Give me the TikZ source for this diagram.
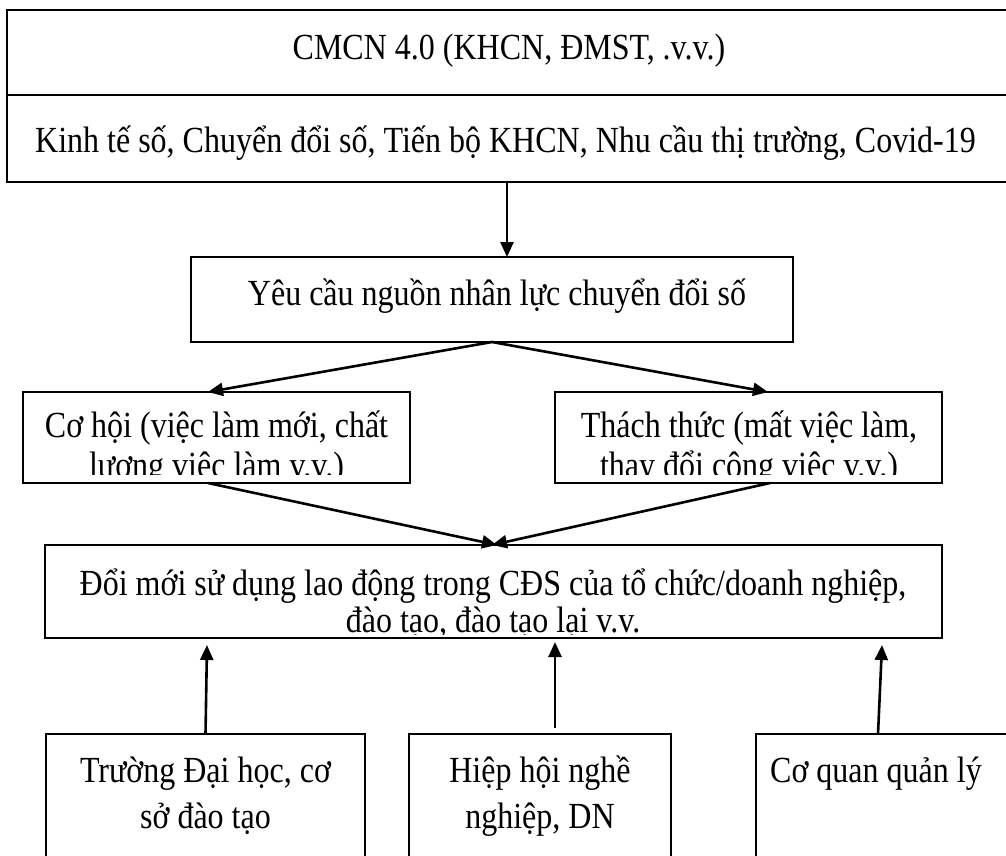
\documentclass[tikz,border=0pt]{standalone}
\usepackage{fontspec}
\setmainfont{Liberation Serif}
\usetikzlibrary{arrows.meta,calc,fit}
\newcommand{\tall}[1]{\scalebox{1}[1.15]{#1}}
\begin{document}
\begin{tikzpicture}[x=1pt,y=-1pt,
  box/.style={draw=black, line width=2pt, inner sep=0pt, outer sep=0pt, rectangle},
  txt/.style={inner sep=0pt, anchor=base, font=\fontsize{32}{38}\selectfont},
  ltxt/.style={inner sep=0pt, anchor=base west, font=\fontsize{32}{38}\selectfont},
  arr/.style={line width=2.6pt, -{Triangle[length=15pt,width=13pt]}}]
\useasboundingbox (0,0) rectangle (1006,855);
\clip (0,0) rectangle (1006,855);
\fill[white] (0,0) rectangle (1006,855);
% boxes
\node[box, fit={(7,10)(1010,95)}] (top1) {};
\node[box, fit={(7,95)(1010,182)}] (top2) {};
\node[box, fit={(191,257)(793,342)}] (yeu) {};
\node[box, fit={(23,392)(410,483)}] (coh) {};
\node[box, fit={(555,392)(942,483)}] (tha) {};
\node[box, fit={(45,545)(942,638)}] (doi) {};
\node[box, fit={(46,734)(365,880)}] (b1) {};
\node[box, fit={(409,734)(671,880)}] (b2) {};
\node[box, fit={(756,734)(1012,880)}] (b3) {};
% texts
\node[txt] (t1) at (509,59) {\tall{CMCN 4.0 (KHCN, ĐMST, .v.v.)}};
\node[txt] (t2) at (505.5,152) {\tall{Kinh tế số, Chuyển đổi số, Tiến bộ KHCN, Nhu cầu thị trường, Covid-19}};
\node[txt] (ty) at (497,305) {\tall{Yêu cầu nguồn nhân lực chuyển đổi số}};
\begin{scope}
\clip (23,392) rectangle (942,474);
\node[txt] (tc1) at (216.5,437) {\tall{Cơ hội (việc làm mới, chất}};
\node[txt] (tc2) at (216.5,477) {\tall{lương việc làm v.v.)}};
\node[txt] (tt1) at (749,437) {\tall{Thách thức (mất việc làm,}};
\node[txt] (tt2) at (749,477) {\tall{thay đổi công việc v.v.)}};
\end{scope}
\begin{scope}
\clip (45,545) rectangle (942,634);
\node[txt] (td1) at (493,595) {\tall{Đổi mới sử dụng lao động trong CĐS của tổ chức/doanh nghiệp,}};
\node[txt] (td2) at (493,632) {\tall{đào tạo, đào tạo lại v.v.}};
\end{scope}
\node[txt] (tb11) at (205.5,782) {\tall{Trường Đại học, cơ}};
\node[txt] (tb12) at (205.5,828) {\tall{sở đào tạo}};
\node[txt] (tb21) at (540,782) {\tall{Hiệp hội nghề}};
\node[txt] (tb22) at (540,828) {\tall{nghiệp, DN}};
\node[ltxt] (tb31) at (770,782) {\tall{Cơ quan quản lý}};
% connectors
\coordinate (ax) at (507,0);
\draw[arr] (top2.south -| ax) -- (yeu.north -| ax);
\draw[arr] ($(yeu.south)$) -- ($(coh.north)+(-8.5,0)$);
\draw[arr] ($(yeu.south)$) -- ($(tha.north)+(19.5,0)$);
\draw[arr] ($(coh.south)+(-8.5,0)$) -- ($(doi.north)+(3.5,0)$);
\draw[arr] ($(tha.south)+(21.5,0)$) -- ($(doi.north)+(-1.5,0)$);
\draw[arr] (b1.north) -- ($(b1.north)+(1.5,-89)$);
\draw[arr] ($(b2.north)+(15,-6)$) -- ($(b2.north)+(15,-92)$);
\draw[arr] ($(b3.north)+(-6,0)$) -- ($(b3.north)+(-2,-89)$);
\end{tikzpicture}
\end{document}
